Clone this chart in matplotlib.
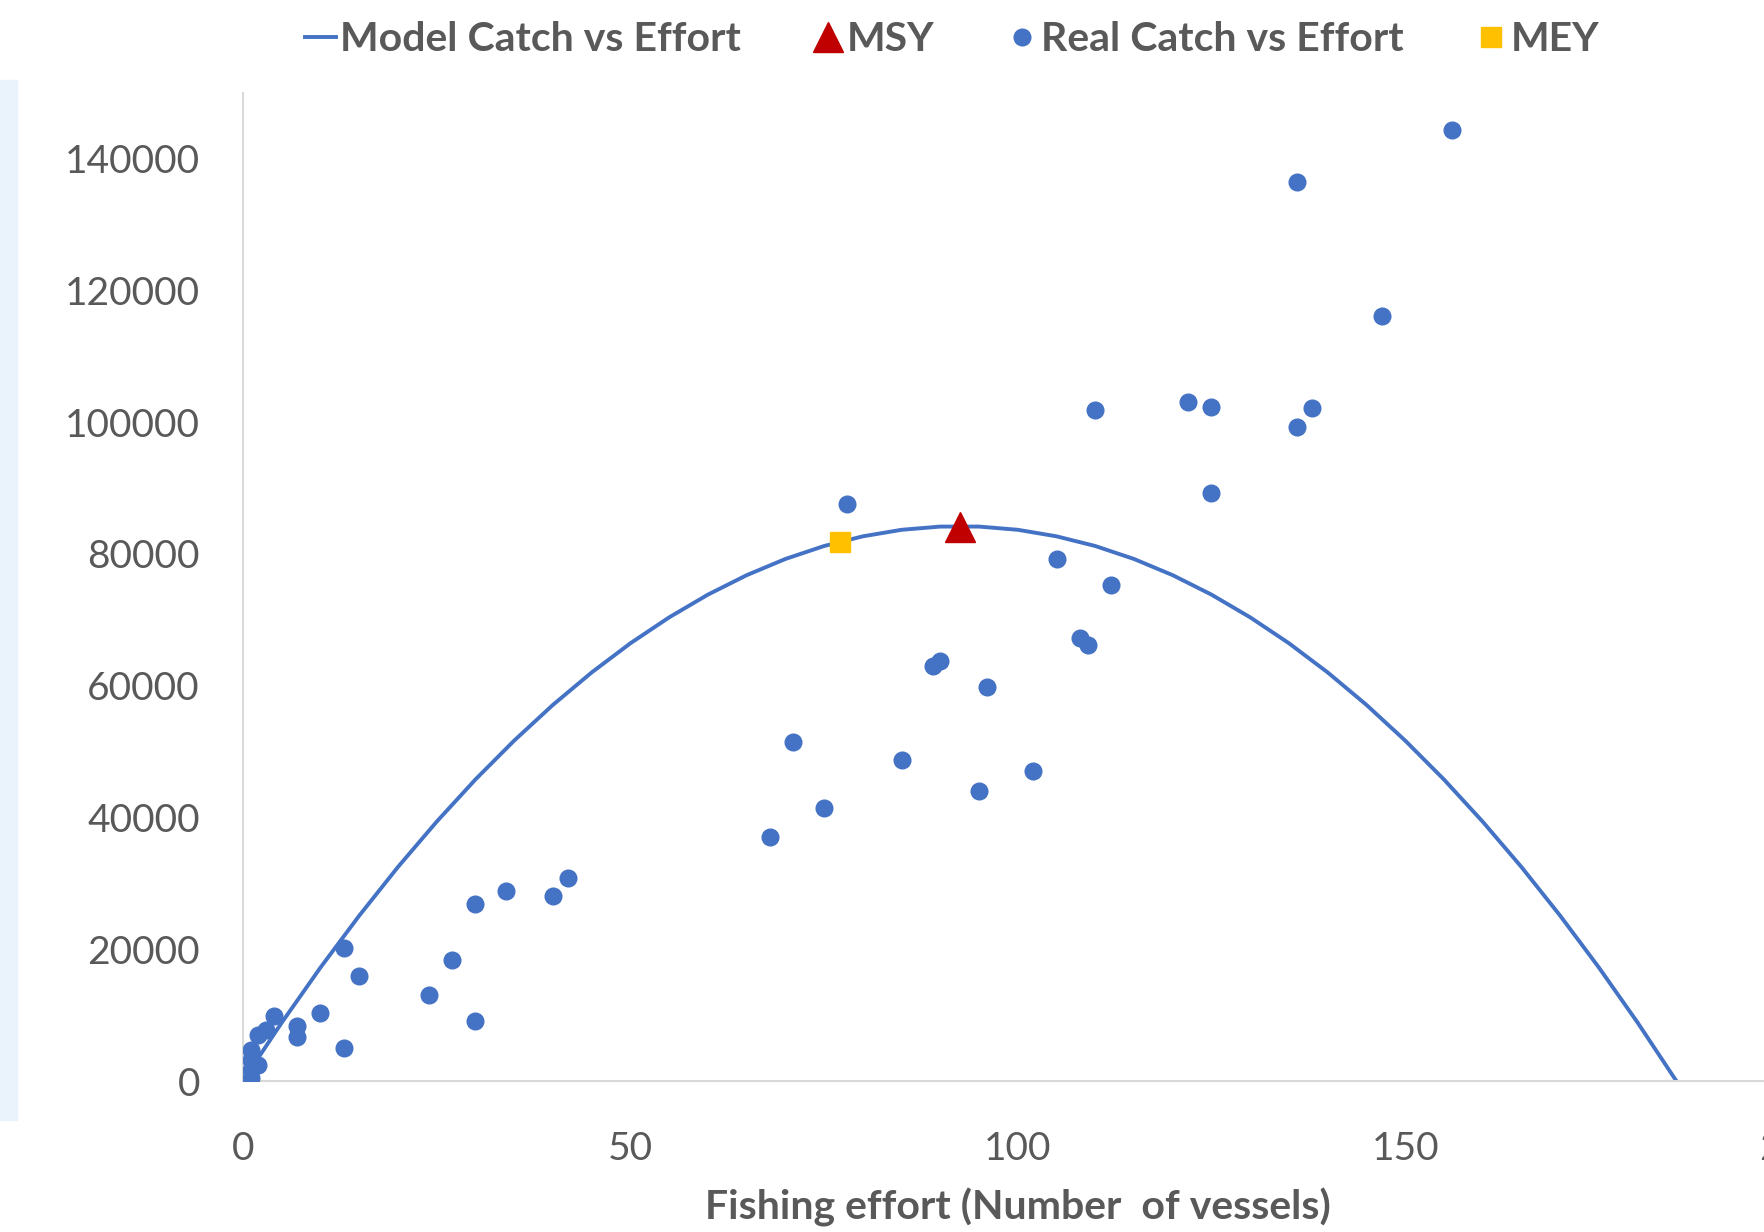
"""Catch vs fishing effort: surplus production model curve with observed catches, MSY and MEY."""

import matplotlib
matplotlib.use("Agg")
import matplotlib.pyplot as plt
from matplotlib.lines import Line2D
from matplotlib.patches import Rectangle

# Observed catch vs effort (number of vessels)
REAL_EFFORT = [1, 1, 1, 1, 2, 2, 3, 4, 7, 7, 10, 13, 13, 15, 24, 27, 30, 30, 34, 40, 42,
               68, 71, 75, 78, 85, 89, 90, 95, 96, 102, 105, 108, 109, 110, 112,
               122, 125, 125, 136, 136, 138, 147, 156]
REAL_CATCH = [4700, 3200, 1700, 500, 2400, 7000, 7800, 9800, 8300, 6700, 10300, 5000,
              20200, 15900, 13100, 18300, 26900, 9100, 28900, 28100, 30800,
              37000, 51400, 41500, 87600, 48700, 63000, 63700, 44000, 59800, 47100,
              79200, 67300, 66100, 101900, 75300, 103100, 102300, 89300, 136400,
              99200, 102100, 116100, 144400]

# Model curve
MODEL_EFFORT = [1, 5, 10, 15, 20, 25, 30, 35, 40, 45, 50, 55, 60, 65, 70, 75, 80, 85, 90,
                95, 100, 105, 110, 115, 120, 125, 130, 135, 140, 145, 150, 155, 160,
                165, 170, 175, 180, 185]
MODEL_CATCH = [1800, 8860, 17220, 25090, 32480, 39360, 45760, 51660, 57080, 62000,
               66430, 70360, 73810, 76760, 79220, 81190, 82660, 83650, 84140,
               84140, 83650, 82660, 81190, 79220, 76760, 73810, 70360, 66430, 62000,
               57080, 51660, 45760, 39360, 32480, 25090, 17220, 8860, 0]

MSY_EFFORT = [92.5]
MSY_CATCH = [84150]
MEY_EFFORT = [77]
MEY_CATCH = [81800]

X_TICKS = [0, 50, 100, 150, 200]
Y_TICKS = [0, 20000, 40000, 60000, 80000, 100000, 120000, 140000]

BLUE = "#4472C4"
RED = "#C00000"
GOLD = "#FFC000"
GREY_TXT = "#595959"
GREY_AX = "#D9D9D9"

plt.rcParams["font.family"] = ["Lato", "DejaVu Sans"]

W, H = 1764, 1232
fig = plt.figure(figsize=(W / 100, H / 100), dpi=100)

# leftover strip of the slide behind the chart
fig.patches.append(Rectangle((0, (H - 1120) / H), 17 / W, 1040 / H,
                             transform=fig.transFigure, color="#EAF2FB", zorder=0))

ax = fig.add_axes([243 / W, (H - 1081) / H, (1792.6 - 243) / W, (1081 - 92.6) / H])

ax.plot(MODEL_EFFORT, MODEL_CATCH, color=BLUE, lw=2.8, zorder=2)
ax.plot(REAL_EFFORT, REAL_CATCH, ls="none", marker="o", ms=12, color=BLUE, zorder=3)
ax.plot(MSY_EFFORT, MSY_CATCH, ls="none", marker="^", ms=21, color=RED, zorder=4)
ax.plot(MEY_EFFORT, MEY_CATCH, ls="none", marker="s", ms=15, color=GOLD, zorder=4)

ax.set_xlim(0, 200)
ax.set_ylim(0, 150000)
ax.set_xticks(X_TICKS)
ax.set_yticks(Y_TICKS)
ax.tick_params(length=0, labelsize=28, labelcolor=GREY_TXT)
ax.tick_params(axis="x", pad=36)
ax.tick_params(axis="y", pad=31)

for side in ("top", "right"):
    ax.spines[side].set_visible(False)
for side in ("left", "bottom"):
    ax.spines[side].set_color(GREY_AX)
    ax.spines[side].set_linewidth(1.5)

ax.set_xlabel("Fishing effort (Number  of vessels)", fontsize=29.5, fontweight="bold",
              color=GREY_TXT, labelpad=15)

handles = [
    Line2D([], [], color=BLUE, lw=2.8),
    Line2D([], [], ls="none", marker="^", ms=21, color=RED),
    Line2D([], [], ls="none", marker="o", ms=12, color=BLUE),
    Line2D([], [], ls="none", marker="s", ms=15, color=GOLD),
]
labels = ["Model Catch vs Effort", "MSY", "Real Catch vs Effort", "MEY"]
leg = fig.legend(handles, labels, ncol=4, loc="center", bbox_to_anchor=(0.5396, 0.968),
                 frameon=False, handlelength=0.75, handletextpad=0.1, columnspacing=1.75,
                 prop={"size": 29.5, "weight": "bold"})
for t in leg.get_texts():
    t.set_color(GREY_TXT)

fig.savefig("out.png", dpi=100, facecolor="white")
